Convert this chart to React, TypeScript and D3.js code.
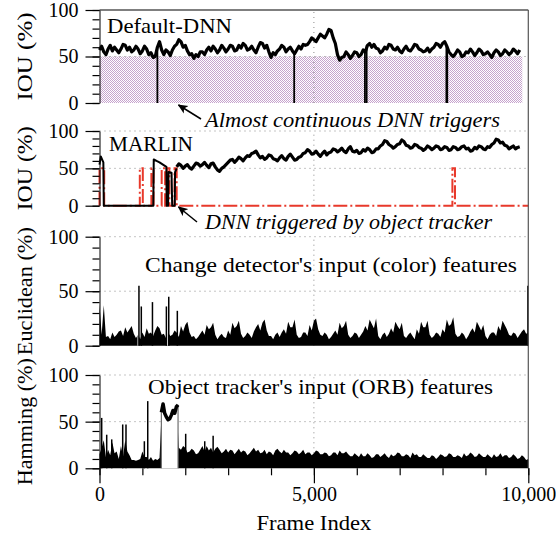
import React, { useEffect, useRef } from 'react';
import * as d3 from 'd3';

// every series is sampled once per 50 frames
const STEP = 50;

// Default-DNN: IOU (%) for frames 0..9800
const defaultIou = [
  57, 61, 55, 52, 58, 62, 56, 60, 57, 54,
  58, 63, 62, 57, 60, 55, 57, 61, 58, 53,
  56, 61, 58, 52, 54, 49, 50, 60, 66, 57,
  52, 57, 55, 51, 57, 61, 63, 68, 66, 60,
  62, 56, 52, 53, 48, 52, 50, 55, 55, 52,
  57, 60, 56, 61, 58, 54, 57, 62, 59, 55,
  58, 62, 61, 56, 57, 62, 59, 64, 62, 57,
  58, 61, 57, 54, 60, 65, 64, 59, 62, 55,
  49, 54, 52, 56, 58, 62, 60, 55, 58, 60,
  56, 53, 57, 61, 58, 63, 62, 63, 66, 70,
  68, 66, 70, 74, 72, 70, 74, 79, 78, 70,
  64, 52, 46, 49, 50, 55, 52, 48, 51, 55,
  54, 50, 52, 57, 55, 62, 64, 60, 63, 59,
  58, 54, 56, 60, 58, 63, 62, 58, 57, 60,
  56, 54, 58, 61, 57, 56, 59, 63, 62, 58,
  57, 55, 56, 59, 55, 58, 60, 64, 63, 60,
  64, 66, 61, 55, 52, 50, 53, 57, 55, 50,
  51, 55, 54, 58, 55, 51, 54, 58, 56, 52,
  53, 55, 52, 49, 54, 57, 55, 51, 53, 57,
  55, 52, 54, 58, 56, 53, 57,
];
// frames where the IOU falls to zero
const defaultDrops = [1350, 4540, 6190, 6230, 8090, 8110];
// frames where the DNN runs (drawn at 50)
const defaultTriggers = [[0, 9860]];

// MARLIN: first frames, [frame, IOU]
const marlinEarly: [number, number][] = [
  [0, 55], [30, 66], [60, 62], [90, 58], [100, 0], [1255, 0], [1265, 62],
  [1330, 60], [1400, 58], [1480, 55], [1560, 52], [1568, 0], [1600, 0],
  [1610, 45], [1680, 44], [1695, 0], [1755, 0], [1762, 45], [1800, 50],
];
const marlinStart = 1800;
// MARLIN IOU (%) for frames 1800..9800
const marlinIou = [
  52, 56, 54, 50, 53, 55, 51, 49, 53, 57,
  56, 53, 55, 58, 54, 51, 56, 57, 52, 48,
  46, 50, 52, 55, 58, 61, 62, 58, 61, 65,
  63, 60, 64, 67, 66, 70, 71, 73, 68, 64,
  66, 62, 64, 68, 67, 63, 62, 60, 64, 67,
  63, 61, 66, 69, 65, 61, 62, 65, 66, 70,
  71, 75, 73, 69, 70, 73, 69, 66, 70, 73,
  68, 71, 72, 76, 75, 72, 74, 77, 73, 71,
  76, 79, 73, 72, 74, 70, 71, 75, 73, 77,
  75, 71, 72, 76, 76, 80, 82, 87, 86, 82,
  80, 77, 79, 82, 83, 88, 86, 81, 80, 77,
  78, 82, 81, 78, 77, 74, 76, 80, 78, 75,
  77, 80, 79, 75, 76, 79, 78, 74, 75, 79,
  78, 75, 76, 79, 80, 76, 77, 73, 74, 78,
  76, 80, 79, 76, 75, 79, 78, 82, 84, 89,
  88, 84, 85, 81, 80, 76, 78, 80, 76, 78,
  79,
];
const marlinTriggers = [
  [0, 110], [940, 1010], [1210, 1260], [1450, 1530], [1570, 1630], [1750, 1800], [8230, 8290],
];

// change detector, Euclidean (%) for frames 0..10000
const euclidean = [
  38, 10, 37, 8, 9, 6, 12, 8, 10, 13,
  14, 9, 17, 12, 15, 18, 11, 7, 10, 6,
  12, 8, 16, 11, 12, 9, 14, 18, 16, 10,
  11, 7, 12, 9, 10, 14, 12, 8, 18, 13,
  19, 22, 12, 8, 9, 6, 8, 11, 14, 10,
  19, 15, 17, 21, 10, 6, 9, 11, 8, 7,
  14, 10, 21, 16, 18, 23, 11, 7, 9, 12,
  10, 7, 13, 17, 20, 14, 21, 24, 14, 9,
  9, 6, 10, 12, 8, 12, 15, 11, 22, 17,
  17, 24, 10, 7, 8, 12, 12, 9, 19, 14,
  23, 25, 15, 10, 9, 12, 10, 6, 8, 11,
  14, 10, 21, 16, 18, 23, 10, 7, 9, 12,
  11, 7, 10, 13, 18, 14, 24, 20, 16, 25,
  9, 6, 10, 12, 8, 11, 16, 12, 22, 18,
  15, 21, 9, 7, 10, 12, 9, 6, 15, 11,
  22, 17, 17, 23, 10, 7, 9, 12, 11, 8,
  15, 12, 24, 18, 20, 26, 11, 8, 9, 12,
  10, 6, 9, 13, 16, 12, 22, 18, 14, 19,
  9, 6, 10, 12, 12, 9, 18, 14, 23, 19,
  15, 10, 9, 12, 11, 7, 10, 13, 15, 11,
  12,
];
const euclideanSpikes: [number, number][] = [
  [920, 55], [975, 36], [1235, 40], [1560, 36], [1615, 45], [1815, 32], [9990, 55],
];
const euclideanDips = [900, 1590];

// object tracker, Hamming (%) for frames 0..10000
const hamming = [
  15, 22, 30, 12, 20, 14, 28, 16, 18, 10,
  24, 13, 30, 18, 14, 9, 9, 8, 9, 10,
  18, 12, 12, 9, 12, 8, 10, 9, 11, 62,
  60, 55, 52, 54, 57, 60, 66, 22, 20, 24,
  22, 17, 18, 21, 19, 15, 16, 20, 24, 18,
  24, 19, 22, 17, 21, 23, 20, 16, 18, 21,
  17, 20, 19, 15, 18, 21, 17, 19, 18, 14,
  16, 19, 22, 18, 20, 16, 17, 20, 15, 18,
  17, 14, 19, 21, 18, 16, 20, 17, 17, 14,
  16, 19, 18, 15, 17, 20, 15, 17, 17, 14,
  16, 19, 18, 15, 15, 17, 16, 13, 14, 17,
  17, 14, 19, 16, 16, 18, 15, 13, 13, 16,
  14, 12, 16, 13, 13, 16, 14, 11, 12, 15,
  15, 12, 14, 16, 13, 11, 15, 13, 14, 17,
  16, 13, 13, 15, 14, 11, 17, 14, 15, 12,
  12, 15, 13, 11, 11, 14, 13, 10, 12, 15,
  14, 12, 13, 16, 15, 12, 12, 14, 13, 11,
  16, 13, 14, 17, 15, 12, 13, 16, 14, 12,
  12, 15, 13, 11, 15, 12, 13, 16, 12, 14,
  14, 11, 12, 15, 13, 10, 11, 14, 12, 9,
  10,
];
const hammingSpikes: [number, number][] = [
  [51, 54], [168, 36], [285, 31], [541, 47], [618, 47], [1046, 29], [1125, 72],
  [2010, 37], [2454, 29], [2650, 35],
];
// frames where the DNN was triggered by the tracker, [frame, Hamming]
const trackerSegment: [number, number][] = [
  [1443, 60], [1483, 69], [1520, 59], [1560, 55], [1600, 52], [1637, 53],
  [1676, 57], [1715, 62], [1754, 59], [1793, 66], [1832, 68],
];

const yTicks = d3.range(0, 101, 10);
const yLabelTicks = [0, 50, 100];
const xTicks = d3.range(0, 10001, 1000);
const xLabelTicks = [0, 5000, 10000];

const FONT = '"Liberation Serif", "Times New Roman", serif';

function App() {
  const ref = useRef<SVGSVGElement>(null);

  useEffect(() => {
    const svg = d3.select(ref.current).style('font-family', FONT);
    svg.selectAll('*').remove();

    const x = d3.scaleLinear().domain([0, 10000]).range([99.5, 528.3]);
    const layout = [[10, 103], [131, 205.7], [236.7, 345.7], [375, 468.3]];
    const y = layout.map(([t, b]) => d3.scaleLinear().domain([0, 100]).range([b, t]));

    const defs = svg.append('defs');
    const pat = defs.append('pattern').attr('id', 'hatch')
      .attr('width', 2).attr('height', 2).attr('patternUnits', 'userSpaceOnUse');
    pat.append('rect').attr('width', 2).attr('height', 2).attr('fill', '#fff');
    pat.append('rect').attr('width', 1).attr('height', 1).attr('fill', '#c6a3cd');
    pat.append('rect').attr('x', 1).attr('y', 1).attr('width', 1).attr('height', 1).attr('fill', '#c6a3cd');

    defs.append('marker').attr('id', 'arrow')
      .attr('viewBox', '0 0 10 10').attr('refX', 9).attr('refY', 5)
      .attr('markerWidth', 10).attr('markerHeight', 10).attr('markerUnits', 'userSpaceOnUse')
      .attr('orient', 'auto')
      .append('path').attr('d', 'M0,0.5 L10,5 L0,9.5 L2.5,5 z').attr('fill', '#000');

    const grid = (i: number) => {
      const g = svg.append('g').attr('stroke', '#8a8a8a').attr('stroke-width', 1)
        .attr('stroke-dasharray', '1,4');
      [50, 100].forEach(v => {
        if (i === 0 && v === 100) return;
        g.append('line').attr('x1', x(0)).attr('x2', x(10000)).attr('y1', y[i](v)).attr('y2', y[i](v));
      });
      g.append('line').attr('x1', x(5000)).attr('x2', x(5000)).attr('y1', y[i](0)).attr('y2', y[i](100));
    };

    const thick = (sel: any, w: number) =>
      sel.attr('fill', 'none').attr('stroke', '#000').attr('stroke-width', w)
        .attr('stroke-linejoin', 'round');

    // ---- panel 1: Default-DNN
    const p1 = y[0];
    defaultTriggers.forEach(([a, b]) => {
      const fill = d3.area<number>().x(d => x(d)).y0(p1(0)).y1(p1(50));
      svg.append('path').attr('d', fill([a, b])).attr('fill', 'url(#hatch)');
    });
    grid(0);
    const line1 = d3.line<number>().x((d, i) => x(i * STEP)).y(d => p1(d));
    thick(svg.append('path').attr('d', line1(defaultIou)), 3.2);
    defaultDrops.forEach(f => {
      svg.append('line').attr('x1', x(f)).attr('x2', x(f))
        .attr('y1', p1(0)).attr('y2', p1(defaultIou[Math.round(f / STEP)]))
        .attr('stroke', '#000').attr('stroke-width', 1.8);
    });

    // ---- panel 2: MARLIN
    const p2 = y[1];
    grid(1);
    const redPts: [number, number][] = [];
    marlinTriggers.forEach(([a, b]) => {
      redPts.push([a, 0], [a, 50], [b, 50], [b, 0]);
    });
    redPts.push([10000, 0]);
    const xyLine2 = d3.line<[number, number]>().x(d => x(d[0])).y(d => p2(d[1]));
    svg.append('path').attr('d', xyLine2(redPts)).attr('fill', 'none')
      .attr('stroke', '#e8392b').attr('stroke-width', 2).attr('stroke-dasharray', '14,3,2,3');
    thick(svg.append('path').attr('d', xyLine2(marlinEarly)), 2);
    const line2 = d3.line<number>().x((d, i) => x(marlinStart + i * STEP)).y(d => p2(d));
    thick(svg.append('path').attr('d', line2(marlinIou)), 3.2);

    // ---- panel 3: Euclidean
    const p3 = y[2];
    grid(2);
    const area3 = d3.area<number>().x((d, i) => x(i * STEP)).y0(p3(0)).y1(d => p3(d));
    svg.append('path').attr('d', area3(euclidean)).attr('fill', '#000');
    euclideanDips.forEach(f => {
      svg.append('line').attr('x1', x(f)).attr('x2', x(f))
        .attr('y1', p3(0)).attr('y2', p3(euclidean[Math.round(f / STEP)]))
        .attr('stroke', '#fff').attr('stroke-width', 1.2);
    });
    euclideanSpikes.forEach(([f, v]) => {
      svg.append('line').attr('x1', x(f)).attr('x2', x(f)).attr('y1', p3(0)).attr('y2', p3(v))
        .attr('stroke', '#000').attr('stroke-width', 1.5);
    });

    // ---- panel 4: Hamming
    const p4 = y[3];
    grid(3);
    const area4 = d3.area<number>().x((d, i) => x(i * STEP)).y0(p4(0)).y1(d => p4(d));
    svg.append('path').attr('d', area4(hamming)).attr('fill', '#000');
    const segArea = d3.area<[number, number]>().x(d => x(d[0])).y0(p4(0)).y1(d => p4(d[1]));
    svg.append('path').attr('d', segArea(trackerSegment)).attr('fill', '#fff');
    const segLine = d3.line<[number, number]>().x(d => x(d[0])).y(d => p4(d[1]));
    [trackerSegment[0], trackerSegment[trackerSegment.length - 1]].forEach(([f, v]) => {
      svg.append('line').attr('x1', x(f)).attr('x2', x(f)).attr('y1', p4(0)).attr('y2', p4(v))
        .attr('stroke', '#6e6e6e').attr('stroke-width', 1.2);
    });
    thick(svg.append('path').attr('d', segLine(trackerSegment)), 3.5);
    hammingSpikes.forEach(([f, v]) => {
      svg.append('line').attr('x1', x(f)).attr('x2', x(f)).attr('y1', p4(0)).attr('y2', p4(v))
        .attr('stroke', '#000').attr('stroke-width', 1.5);
    });

    // ---- frame
    svg.append('line').attr('x1', x(0)).attr('x2', x(10000)).attr('y1', p1(100)).attr('y2', p1(100))
      .attr('stroke', '#000').attr('stroke-width', 1.2);
    svg.append('line').attr('x1', x(10000)).attr('x2', x(10000)).attr('y1', p1(100)).attr('y2', p4(0))
      .attr('stroke', '#555').attr('stroke-width', 1.2);

    // ---- y axes
    y.forEach(s => {
      const minor = svg.append('g').attr('transform', `translate(${x(0)},0)`)
        .call(d3.axisLeft(s).tickValues(yTicks).tickSize(7).tickSizeOuter(0).tickFormat(() => ''));
      minor.selectAll('line').attr('stroke-width', 1.2);
      const major = svg.append('g').attr('transform', `translate(${x(0)},0)`)
        .call(d3.axisLeft(s).tickValues(yLabelTicks).tickSize(14).tickPadding(7).tickFormat(d3.format('d')))
        .attr('font-size', 20).attr('font-family', FONT);
      major.select('.domain').remove();
      major.selectAll('line').attr('stroke-width', 1.2);
      major.selectAll('text').attr('fill', '#000');
    });

    // ---- x axis
    const xMinor = svg.append('g').attr('transform', `translate(0,${p4(0)})`)
      .call(d3.axisBottom(x).tickValues(xTicks).tickSize(7).tickFormat(() => ''));
    xMinor.select('.domain').remove();
    xMinor.selectAll('line').attr('stroke-width', 1.2);
    const xMajor = svg.append('g').attr('transform', `translate(0,${p4(0)})`)
      .call(d3.axisBottom(x).tickValues(xLabelTicks).tickSize(15).tickPadding(4).tickFormat(d3.format(',')))
      .attr('font-size', 20).attr('font-family', FONT);
    xMajor.select('.domain').remove();
    xMajor.selectAll('line').attr('stroke-width', 1.2);
    xMajor.selectAll('text').attr('fill', '#000');

    svg.append('text').attr('x', x(5000)).attr('y', 530).attr('text-anchor', 'middle')
      .attr('font-size', 22).attr('textLength', 115).attr('lengthAdjust', 'spacingAndGlyphs')
      .text('Frame Index');

    // ---- y labels
    const ylabels = [['IOU (%)', 88], ['IOU (%)', 84], ['Euclidean (%)', 128], ['Hamming (%)', 127]];
    ylabels.forEach(([label, len], i) => {
      const mid = (layout[i][0] + layout[i][1]) / 2;
      svg.append('text').attr('transform', `translate(32,${mid}) rotate(-90)`)
        .attr('text-anchor', 'middle').attr('font-size', 22)
        .attr('textLength', len as number).attr('lengthAdjust', 'spacingAndGlyphs')
        .text(label as string);
    });

    // ---- panel titles and notes
    const notes: [string, number, number, number, boolean][] = [
      ['Default-DNN', 107, 33, 125, false],
      ['MARLIN', 109, 151, 84, false],
      ["Change detector's input (color) features", 145, 272, 372, false],
      ["Object tracker's input (ORB) features", 148, 393.5, 345, false],
      ['Almost continuous DNN triggers', 205, 127, 295, true],
      ['DNN triggered by object tracker', 205, 228.5, 287, true],
    ];
    notes.forEach(([t, tx, ty, len, it]) => {
      svg.append('text').attr('x', tx).attr('y', ty).attr('font-size', 22)
        .attr('font-style', it ? 'italic' : 'normal')
        .attr('textLength', len).attr('lengthAdjust', 'spacingAndGlyphs').text(t);
    });

    const arrows = [[201, 119, 178.5, 105], [197, 222, 178.5, 207]];
    arrows.forEach(([x1, y1, x2, y2]) => {
      svg.append('line').attr('x1', x1).attr('y1', y1).attr('x2', x2).attr('y2', y2)
        .attr('stroke', '#000').attr('stroke-width', 1.5).attr('marker-end', 'url(#arrow)');
    });
  }, []);

  return (
    <svg ref={ref} width={556} height={537}
      style={{ position: 'absolute', left: 0, top: 0, background: '#fff' }} />
  );
}

export default App;
